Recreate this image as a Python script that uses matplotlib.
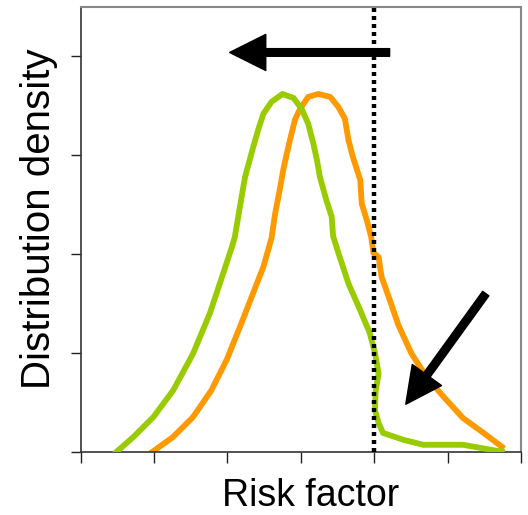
import matplotlib
matplotlib.use("Agg")
import matplotlib.pyplot as plt

plt.rcParams['font.family'] = ['Liberation Sans', 'DejaVu Sans']

# green curve (shifted distribution)
green_x = [0.49, 0.72, 0.99, 1.26, 1.53, 1.76, 1.94, 2.06, 2.10, 2.17, 2.24, 2.35, 2.42,
           2.49, 2.60, 2.75, 2.90, 3.01, 3.10, 3.17, 3.22, 3.26, 3.35, 3.42, 3.44, 3.53,
           3.65, 3.81, 3.94, 4.01, 4.06, 4.02, 4.01, 4.06, 4.12, 4.40, 4.67, 5.21, 5.74]
green_y = [0.00, 0.15, 0.35, 0.62, 0.99, 1.40, 1.80, 2.07, 2.17, 2.48, 2.78, 3.08, 3.26,
           3.42, 3.54, 3.62, 3.58, 3.47, 3.32, 3.12, 2.95, 2.78, 2.54, 2.38, 2.18, 1.97,
           1.70, 1.43, 1.20, 1.00, 0.79, 0.62, 0.42, 0.29, 0.19, 0.12, 0.07, 0.07, 0.00]

# orange curve (original distribution)
orange_x = [0.98, 1.26, 1.53, 1.78, 1.99, 2.19, 2.40, 2.49, 2.60, 2.65, 2.72, 2.76, 2.81,
            2.85, 2.92, 2.99, 3.10, 3.24, 3.40, 3.51, 3.60, 3.65, 3.71, 3.81, 3.83, 3.90,
            3.96, 3.99, 4.06, 4.10, 4.21, 4.33, 4.51, 4.71, 4.94, 5.21, 5.49, 5.74]
orange_y = [0.00, 0.15, 0.35, 0.62, 0.93, 1.30, 1.70, 1.87, 2.16, 2.41, 2.68, 2.85, 3.02,
            3.15, 3.36, 3.47, 3.59, 3.62, 3.59, 3.49, 3.37, 3.15, 2.98, 2.75, 2.51, 2.34,
            2.17, 2.01, 1.97, 1.77, 1.54, 1.28, 0.99, 0.76, 0.56, 0.34, 0.19, 0.05]

threshold = 4.0
# arrows: (tail, tip)
arrow_shift = ((4.21, 4.04), (2.03, 4.04))
arrow_tail = ((5.52, 1.60), (4.43, 0.48))

fig = plt.figure(figsize=(5.28, 5.15), dpi=100)
ax = fig.add_axes([0.1528, 0.1229, 0.8339, 0.8635])

ax.plot(green_x, green_y, color='#99CC00', lw=4.2, zorder=3)
ax.plot(orange_x, orange_y, color='#FF9900', lw=4.2, zorder=2)
ax.plot([threshold, threshold], [0, 4.5], color='black', lw=3.2, linestyle=(0, (0.9, 0.9)),
        dash_capstyle='butt', zorder=4)

for tail, tip in (arrow_shift, arrow_tail):
    ax.annotate('', xy=tip, xytext=tail,
                arrowprops=dict(arrowstyle='simple,head_length=2.6,head_width=2.6,tail_width=0.55',
                                color='black', shrinkA=0, shrinkB=0, mutation_scale=10),
                zorder=5)

ax.set_xlim(0, 6)
ax.set_ylim(0, 4.5)
ax.set_xticks(range(7))
ax.set_yticks(range(5))
ax.set_xticklabels([])
ax.set_yticklabels([])
ax.tick_params(axis='x', direction='out', length=8, width=1, color='#222222')
ax.tick_params(axis='y', direction='out', length=7, width=1, color='#222222')

for side in ('top', 'right'):
    ax.spines[side].set_color('#888888')
    ax.spines[side].set_linewidth(1.5)
for side in ('left', 'bottom'):
    ax.spines[side].set_color('#333333')
    ax.spines[side].set_linewidth(1.2)

ax.set_xlabel('Risk factor', fontsize=27)
ax.set_ylabel('Distribution density', fontsize=29)
ax.xaxis.set_label_coords(0.523, -0.059)
ax.yaxis.set_label_coords(-0.052, 0.524)

fig.savefig('out.png', dpi=100)
